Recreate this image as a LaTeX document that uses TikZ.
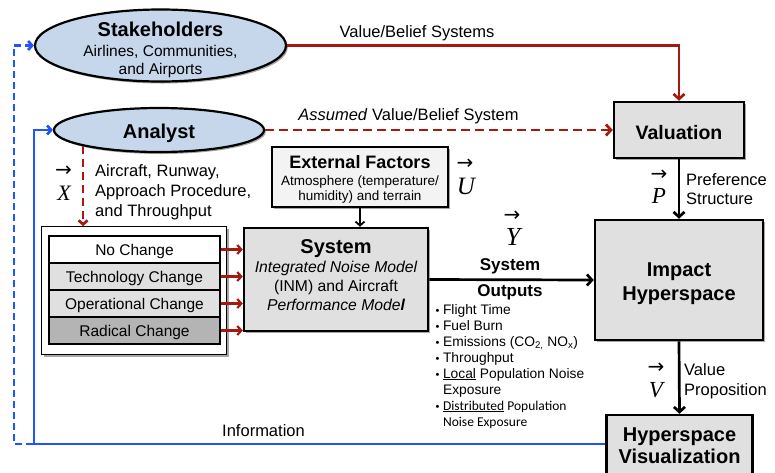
\RequirePackage{fix-cm}
\documentclass[tikz,border=0pt]{standalone}
\usepackage{fontspec}
\setmainfont{Liberation Sans}
\newfontfamily\vecfont{Liberation Serif}
\newfontfamily\calfont{Carlito}
\newfontfamily\arrfont{DejaVu Sans}
\usetikzlibrary{arrows.meta,shapes.geometric,shadows}
\definecolor{ellfill}{RGB}{198,215,236}
\definecolor{boxfill}{RGB}{224,224,224}
\definecolor{extfill}{RGB}{243,243,243}
\definecolor{radfill}{RGB}{180,180,180}
\definecolor{dred}{RGB}{165,25,15}
\definecolor{iblue}{RGB}{30,85,255}
\newcommand{\fsz}[2]{\fontsize{#1}{#2}\selectfont}
\begin{document}
\begin{tikzpicture}[x=1pt,y=-1pt,
  shad/.style={drop shadow={shadow xshift=1.8pt,shadow yshift=-2pt,opacity=0.35,fill=black}},
  ell/.style={ellipse,draw=black,line width=2.2pt,fill=ellfill,inner sep=0pt,shad},
  bbox/.style={rectangle,draw=black,line width=2.5pt,fill=boxfill,inner sep=0pt,shad},
  rowbox/.style={rectangle,draw=black,line width=2.1pt,inner sep=0pt,minimum width=171pt,minimum height=27pt,text height=14pt,text depth=2pt,font=\fsz{15.5}{18}},
  txt/.style={inner sep=0pt,anchor=base},
  txtl/.style={inner sep=0pt,anchor=base west},
  vlet/.style={inner sep=0pt,anchor=base,font=\vecfont\itshape\fsz{#1}{#1}},
  varr/.style={inner sep=0pt,anchor=base,font=\arrfont\fsz{20}{20}},
  redl/.style={draw=dred,line width=2.7pt},
  tipbig/.style={-{Straight Barb[length=5pt,width=11pt]}},
  tipsmall/.style={-{Straight Barb[length=4pt,width=9pt]}},
  blk/.style={draw=black,line width=2.7pt,tipbig},
  bluel/.style={draw=iblue,line width=2.7pt,tipsmall},
  font=\fsz{16.5}{19.5}
]
\useasboundingbox (0,0) rectangle (775,472);

% ---- main shapes
\node[ell,minimum width=251pt,minimum height=72pt] (stake) at (160.5,45.5) {};
\node[txt,font=\bfseries\fsz{20}{22}] (stakeT) at (160.5,36) {Stakeholders};
\node[txt,font=\fsz{15.5}{18}] (stakeA) at (160.5,56) {Airlines, Communities,};
\node[txt,font=\fsz{15.5}{18}] (stakeB) at (160.5,74) {and Airports};

\node[ell,minimum width=210pt,minimum height=44pt,text height=16pt,text depth=0pt,font=\bfseries\fsz{20}{22}] (analyst) at (159,130) {Analyst};

\node[bbox,minimum width=130pt,minimum height=56pt,text height=18pt,text depth=0pt,font=\bfseries\fsz{19.5}{22}] (val) at (679,130) {Valuation};

\node[bbox,minimum width=168pt,minimum height=120pt] (imp) at (679,280) {};
\node[txt,font=\bfseries\fsz{20}{22}] (impA) at (679,276.7) {Impact};
\node[txt,font=\bfseries\fsz{20}{22}] (impB) at (679,300) {Hyperspace};

\node[bbox,minimum width=146pt,minimum height=62pt] (hv) at (679.5,446) {};
\node[txt,font=\bfseries\fsz{20}{22}] (hvA) at (679.5,441.7) {Hyperspace};
\node[txt,font=\bfseries\fsz{20}{22}] (hvB) at (679.5,463) {Visualization};

\node[bbox,fill=extfill,line width=2.2pt,minimum width=176pt,minimum height=60pt] (ext) at (360,177) {};
\node[txt,font=\bfseries\fsz{18}{20}] (extA) at (360,168.3) {External Factors};
\node[txt,font=\fsz{13.5}{16}] (extB) at (360,185) {Atmosphere (temperature/};
\node[txt,font=\fsz{13.5}{16}] (extC) at (360,200) {humidity) and terrain};

\node[bbox,minimum width=184pt,minimum height=103pt] (sys) at (336,279.5) {};
\node[txt,font=\bfseries\fsz{20}{22}] (sysA) at (336,253.3) {System};
\node[txt,font=\itshape\fsz{15.7}{18}] (sysB) at (336,272) {Integrated Noise Model};
\node[txt,font=\fsz{15.7}{18}] (sysC) at (336,291.7) {(INM) and Aircraft};
\node[txt,font=\itshape\fsz{15.7}{18}] (sysD) at (336,310) {Performance Mode\textbf{l}};

% ---- alternatives container
\node[draw=black,line width=1.3pt,fill=white,minimum width=185pt,minimum height=128pt,inner sep=0pt,shad] (cont) at (134.3,290.8) {};
\node[rowbox,fill=white] (r1) at (134.5,249.5) {No Change};
\node[rowbox,fill=boxfill] (r2) at (134.5,276.5) {Technology Change};
\node[rowbox,fill=boxfill] (r3) at (134.5,303.5) {Operational Change};
\node[rowbox,fill=radfill] (r4) at (134.5,330.5) {Radical Change};

% ---- labels
\node[txt] (lvbs) at (417,37) {Value/Belief Systems};
\node[txt] (lavbs) at (408.5,120) {\textit{Assumed} Value/Belief System};
\node[txtl] (lac1) at (95,176.7) {Aircraft, Runway,};
\node[txtl] (lac2) at (95,196) {Approach Procedure,};
\node[txtl] (lac3) at (95,216) {and Throughput};

\node[vlet=22] (vx) at (64,200) {X};
\node[varr] (vxa) at (63.5,176) {→};
\node[vlet=25] (vu) at (466,194) {U};
\node[varr] (vua) at (465,169.5) {→};
\node[vlet=26] (vy) at (513,245.7) {Y};
\node[varr] (vya) at (512,221.5) {→};
\node[vlet=23] (vp) at (659,203) {P};
\node[varr] (vpa) at (659,180) {→};
\node[vlet=23] (vv) at (656,397) {V};
\node[varr] (vva) at (656,373) {→};

\node[txtl] (lpref1) at (686,185) {Preference};
\node[txtl] (lpref2) at (686,204) {Structure};
\node[txtl] (lvp1) at (684,375) {Value};
\node[txtl] (lvp2) at (684,395) {Proposition};
\node[txt,font=\bfseries\fsz{17}{19}] (lso1) at (510,270) {System};
\node[txt,font=\bfseries\fsz{17}{19}] (lso2) at (510,296.7) {Outputs};
\node[txt] (linfo) at (263.5,436) {Information};
\node[anchor=base west,inner sep=0pt,font=\fsz{13.8}{16}] (outs) at (435.5,314) {\begin{tabular}[t]{@{}l@{\hspace{3.5pt}}l@{}}
{\fsz{11}{16}\textbullet} & Flight Time\\
{\fsz{11}{16}\textbullet} & Fuel Burn\\
{\fsz{11}{16}\textbullet} & Emissions (CO\textsubscript{2,} NO\textsubscript{x})\\
{\fsz{11}{16}\textbullet} & Throughput\\
{\fsz{11}{16}\textbullet} & \underline{Local} Population Noise\\
 & Exposure\\
{\fsz{11}{16}\textbullet} & {\calfont\fsz{13.5}{16}\underline{Distributed} Population}\\
 & {\calfont\fsz{13.5}{16}Noise Exposure}
\end{tabular}};

% ---- connectors
\draw[redl,tipbig] (stake.east) -| (val.north);
\draw[redl,tipbig,dash pattern=on 9pt off 5pt] (analyst.east) -- (val.west);
\draw[redl,tipsmall,dash pattern=on 8pt off 5pt] (analyst.-168) -- (analyst.-168 |- cont.north);
\foreach \r in {r1,r2,r3,r4}{
  \draw[draw=dred,line width=2.2pt,tipsmall] (\r.east) -- (\r.east -| sys.west);
}
\draw[blk] (val.south) -- (imp.north);
\draw[blk] (imp.south) -- (hv.north);
\draw[blk,line width=1.8pt,-{Straight Barb[length=4pt,width=9pt]}] (ext.south) -- (ext.south |- sys.north);
\draw[blk] (sys.east) -- (imp.west);

\coordinate (hvin) at ([yshift=2pt]hv.west);
\coordinate (bl1) at (14,444);
\coordinate (bl2) at (34,444);
\draw[bluel,dash pattern=on 7pt off 4pt] (hvin) -- (bl1) |- (stake.west);
\draw[bluel] (hvin) -- (bl2) |- (analyst.west);
\end{tikzpicture}
\end{document}
